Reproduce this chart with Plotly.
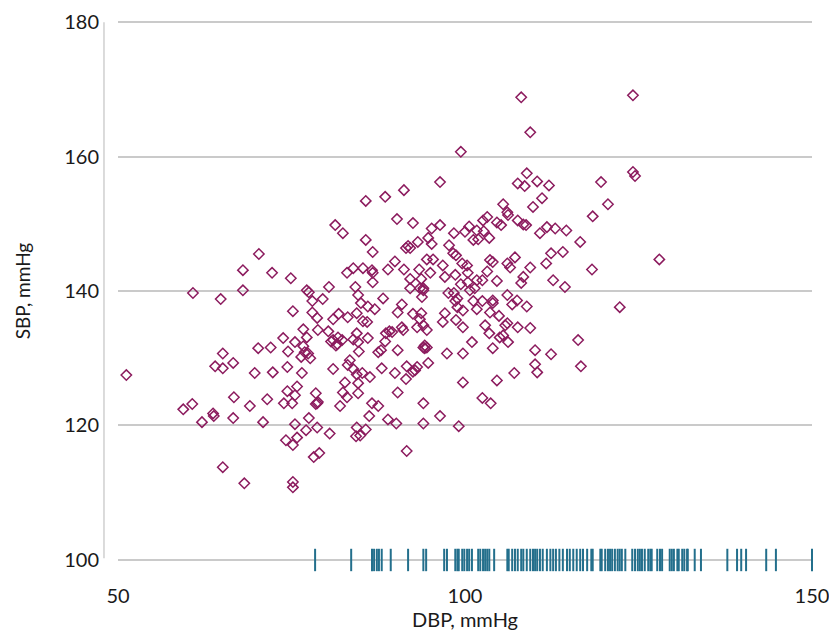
import plotly.graph_objects as go

# Diastolic / systolic blood pressure pairs (mmHg)
dbp = [
    81.3, 82.4, 70.3, 68.0, 72.2, 74.9, 83.0, 80.4, 68.0, 60.8,
    64.8, 77.2, 77.5, 78.0, 79.5, 75.2, 78.0, 78.7, 81.0, 81.8,
    83.1, 76.7, 77.2, 78.8, 80.3, 81.0, 81.7, 81.6, 82.3, 73.8,
    75.5, 70.2, 72.0, 74.5, 76.7, 76.9, 77.4, 76.4, 77.7, 65.1,
    64.0, 65.1, 66.6, 51.2, 69.7, 72.3, 74.4, 76.5, 81.0, 83.1,
    82.7, 75.8, 74.4, 75.5, 82.4, 83.0, 66.7, 71.5, 69.0, 73.9,
    75.1, 78.5, 78.7, 78.8, 78.5, 82.0, 60.7, 59.4, 63.7, 63.8,
    62.1, 66.6, 70.9, 77.5, 75.5, 78.7, 77.1, 80.5, 75.8, 74.2,
    75.2, 79.0, 78.2, 65.1, 68.2, 75.2, 75.2, 80.7, 81.4,
    108.1, 124.2, 109.4, 99.4, 108.9, 107.6, 108.6, 110.4, 112.1, 124.2,
    124.5, 119.6, 111.1, 109.8, 120.6, 118.4, 96.4, 91.2, 88.5, 85.7,
    105.5, 106.1, 106.2, 103.2, 102.6, 104.6, 105.2, 107.6, 108.4, 108.8,
    90.2, 92.5, 95.2, 96.4, 100.6, 100.0, 101.7, 102.7, 98.4, 101.2,
    101.9, 103.5, 110.8, 111.8, 113.0, 114.6, 116.6, 85.7, 86.7, 93.2,
    94.7, 95.2, 91.5, 91.8, 97.7, 89.9, 88.9, 91.2, 92.1, 93.4,
    94.5, 95.4, 96.8, 98.3, 98.7, 99.6, 100.3, 97.1, 98.6, 100.4,
    95.0, 93.7, 94.0, 99.4, 100.4, 101.7, 103.6, 104.0, 106.1, 106.5,
    107.2, 109.4, 111.7, 112.4, 114.1, 118.3, 128.0, 103.2, 102.5, 104.6,
    108.4, 108.1, 112.7, 114.4, 83.9, 85.3, 86.6, 86.7, 86.7, 84.2,
    84.6, 88.2, 92.1, 93.5, 94.0, 97.6, 98.9, 100.7, 101.4, 104.0,
    106.1, 92.1,
    85.0, 86.0, 87.0, 90.9, 90.3, 92.5, 93.7, 93.8, 98.4, 98.6,
    98.9, 99.7, 101.2, 102.5, 101.7, 104.0, 103.6, 104.9, 106.8, 107.5,
    108.9, 122.3, 84.4, 85.3, 85.9, 97.1, 96.8, 98.7, 93.5, 94.0,
    94.5, 93.1, 90.9, 91.1, 89.1, 88.6, 89.5, 99.7, 102.9, 103.5,
    105.8, 106.1, 105.5, 107.6, 109.4, 83.9, 84.4, 84.6, 86.0, 84.7,
    88.5, 87.5, 87.9, 90.3, 94.2, 94.2, 94.0, 94.5, 97.4, 99.7,
    101.0, 104.0, 105.0, 106.2, 110.1, 112.4, 116.3, 116.7, 83.4, 83.9,
    84.4, 85.2, 86.3, 84.6, 88.0, 89.9, 91.6, 91.5, 92.8, 92.5,
    93.1, 94.7, 90.3, 94.0, 94.0, 96.4, 99.1, 99.7, 102.5, 103.7,
    104.6, 107.1, 110.1, 110.4, 91.6, 84.6, 86.6, 87.5, 86.2, 84.4,
    84.3, 84.9, 85.7, 88.9, 90.1,
]

sbp = [
    149.8, 148.6, 145.5, 143.1, 142.7, 141.9, 142.7, 140.6, 140.1, 139.7,
    138.8, 140.1, 139.8, 138.5, 138.8, 137.0, 136.8, 136.0, 135.8, 136.6,
    136.1, 134.3, 133.1, 134.2, 134.0, 132.7, 133.1, 132.1, 132.7, 133.0,
    132.4, 131.5, 131.6, 131.0, 131.8, 130.9, 130.7, 130.2, 130.0, 130.7,
    128.8, 128.5, 129.3, 127.5, 127.8, 127.9, 128.7, 127.8, 128.4, 129.0,
    126.4, 125.8, 125.1, 124.5, 124.9, 124.2, 124.2, 123.9, 122.9, 123.3,
    123.3, 124.8, 123.3, 123.5, 123.2, 122.9, 123.2, 122.4, 121.8, 121.4,
    120.5, 121.1, 120.5, 121.1, 120.2, 119.7, 119.3, 118.8, 118.2, 117.8,
    117.1, 115.9, 115.3, 113.8, 111.4, 111.6, 110.8, 132.5, 131.9,
    168.8, 169.1, 163.6, 160.7, 157.5, 156.0, 155.6, 156.3, 155.7, 157.7,
    157.1, 156.2, 153.8, 152.5, 152.9, 151.1, 156.2, 155.0, 154.0, 153.4,
    152.9, 151.7, 151.3, 151.0, 150.5, 150.2, 149.8, 150.5, 149.9, 149.8,
    150.7, 150.1, 149.3, 149.8, 149.6, 148.8, 149.0, 148.9, 148.6, 147.6,
    147.7, 147.9, 148.6, 149.5, 149.3, 149.0, 147.3, 147.6, 145.8, 147.3,
    147.9, 147.0, 146.4, 146.7, 146.8, 144.4, 143.2, 143.2, 141.8, 143.2,
    144.7, 144.7, 143.8, 145.6, 145.3, 144.1, 143.8, 142.1, 142.4, 142.7,
    142.7, 141.8, 140.4, 141.0, 141.3, 141.6, 144.6, 144.3, 144.1, 143.5,
    145.0, 143.5, 144.1, 145.6, 145.8, 143.2, 144.7, 142.9, 141.6, 141.5,
    142.1, 141.2, 141.6, 140.6, 143.4, 143.4, 143.1, 142.7, 141.3, 140.6,
    139.4, 138.9, 140.4, 140.4, 140.1, 139.7, 138.9, 140.1, 140.4, 138.6,
    139.4, 146.4,
    138.2, 137.7, 137.3, 138.0, 136.8, 136.6, 136.7, 139.1, 139.7, 138.5,
    137.6, 137.1, 138.5, 138.5, 137.3, 138.2, 136.8, 136.3, 138.0, 138.6,
    137.7, 137.6, 136.7, 135.5, 135.4, 136.7, 135.4, 135.7, 135.8, 134.9,
    134.2, 134.6, 134.6, 134.2, 134.0, 133.7, 133.9, 134.6, 134.9, 133.7,
    134.9, 135.2, 133.4, 134.6, 134.5, 132.8, 133.7, 132.4, 133.0, 131.0,
    132.5, 130.9, 131.2, 131.2, 131.9, 131.5, 131.6, 131.6, 130.7, 130.7,
    132.4, 131.5, 133.1, 132.4, 131.2, 130.6, 132.7, 128.8, 129.7, 128.4,
    127.6, 127.8, 127.2, 126.3, 128.5, 127.8, 128.8, 126.9, 128.2, 128.0,
    128.7, 129.3, 124.9, 123.3, 120.3, 121.4, 119.9, 126.4, 124.1, 123.3,
    126.7, 127.8, 129.1, 127.9, 116.2, 124.8, 123.3, 122.9, 121.4, 119.7,
    118.4, 118.5, 119.4, 120.9, 120.3,
]

# Rug of DBP values along the bottom axis
rug = [
    78.4, 83.6, 86.6, 86.9, 87.3, 87.6, 88.0, 89.3, 91.8, 94.0, 94.4,
    97.0, 97.4, 98.6, 98.9, 99.1, 99.6, 99.9, 100.3, 100.6, 101.0,
    101.9, 102.2, 102.6, 102.9, 103.2, 103.5, 104.2, 106.1, 106.3,
    106.8, 107.2, 107.6, 108.1, 108.4, 108.9, 109.4, 109.8, 110.1,
    110.4, 110.8, 111.2, 111.8, 112.3, 112.7, 113.1, 113.6, 114.1,
    114.7, 115.1, 115.6, 116.1, 116.6, 117.0, 117.6, 118.2, 118.4,
    119.5, 119.7, 120.2, 120.6, 120.9, 121.2, 121.6, 122.0, 122.3,
    122.6, 123.1, 124.1, 124.5, 124.9, 125.2, 125.5, 125.9, 126.4,
    126.7, 126.9, 127.7, 128.1, 128.4, 129.5, 129.8, 130.1, 130.6,
    130.8, 131.3, 131.6, 132.0, 132.1, 133.1, 134.0, 137.8, 139.2,
    139.8, 140.5, 143.4, 144.8, 150.0,
]

x_ticks = [50, 100, 150]
y_ticks = [100, 120, 140, 160, 180]

FONT = "Lato, 'Open Sans', sans-serif"
INK = "#1a1a1a"
PURPLE = "#8c1b5e"
TEAL = "#236f8c"

fig = go.Figure()

fig.add_trace(go.Scatter(
    x=dbp, y=sbp, mode="markers",
    marker=dict(symbol="diamond-open", size=8, color=PURPLE,
                line=dict(color=PURPLE, width=1.5)),
    showlegend=False, hoverinfo="x+y",
))

fig.add_trace(go.Scatter(
    x=rug, y=[100] * len(rug), mode="markers",
    marker=dict(symbol="line-ns", size=16,
                line=dict(color=TEAL, width=2)),
    cliponaxis=False, showlegend=False, hoverinfo="x",
))

# Separate vertical axis line, offset to the left of the plotting area
fig.add_shape(type="line", xref="paper", yref="paper",
              x0=-0.0202, x1=-0.0202, y0=0.007, y1=0.996,
              line=dict(color="#cfcfcf", width=1.5))

fig.update_layout(
    width=829, height=639, autosize=False,
    margin=dict(l=118, r=17, t=20, b=77),
    paper_bgcolor="white", plot_bgcolor="white",
    font=dict(family=FONT, color=INK, size=20),
    xaxis=dict(
        range=[50, 150], tickvals=x_ticks, ticktext=[str(v) for v in x_ticks],
        automargin=False,
        showgrid=False, zeroline=False, showline=False, ticks="",
        ticklabelstandoff=20, ticklabeloverflow="allow",
        tickfont=dict(family=FONT, size=20, color=INK),
        title=dict(text="DBP, mmHg", standoff=2,
                   font=dict(family=FONT, size=20, color=INK)),
    ),
    yaxis=dict(
        range=[99.7, 180.3], tickvals=y_ticks, ticktext=[str(v) for v in y_ticks],
        automargin=False,
        showgrid=True, gridcolor="#cacaca", gridwidth=1.5,
        zeroline=False, showline=False, ticks="",
        ticklabelstandoff=18,
        tickfont=dict(family=FONT, size=20, color=INK),
        title=dict(text="SBP, mmHg", standoff=28,
                   font=dict(family=FONT, size=19, color=INK)),
    ),
)

fig.write_html("out.html")
